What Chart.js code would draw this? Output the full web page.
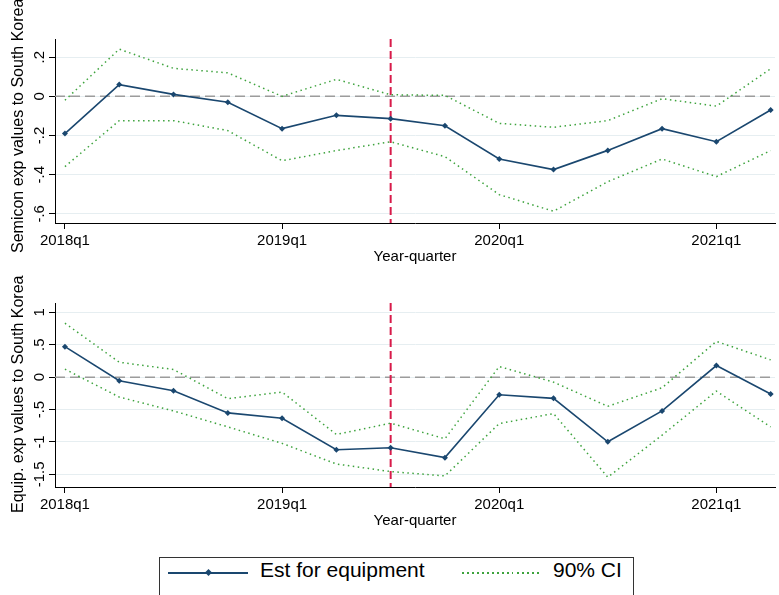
<!DOCTYPE html>
<html>
<head>
<meta charset="utf-8">
<script src="https://cdn.jsdelivr.net/npm/chart.js@4.4.0/dist/chart.umd.min.js"></script>
<style>
  body { margin: 0; background: #fff; width: 779px; height: 595px; overflow: hidden; position: relative;
         font-family: "Liberation Sans", Arial, sans-serif; }
  canvas.panel { position: absolute; left: 0; }
  #legend { position: absolute; left: 159px; top: 557px; width: 473px; height: 60px; border: 1px solid #333; }
  #legend > * { position: absolute; }
  .solid { left: 8px; top: 14px; width: 80px; height: 2px; background: #1a476f; }
  .mark { left: 46px; top: 12px; width: 5px; height: 5px; background: #1a476f; transform: rotate(45deg); }
  .dots { left: 302px; top: 14px; width: 78px; height: 1.5px;
          background: repeating-linear-gradient(to right, #3da33d 0 1.5px, transparent 1.5px 5px); }
  .lbl { top: 1px; font-size: 21px; line-height: 21px; color: #000; white-space: nowrap; }
</style>
</head>
<body>
<canvas id="semi" class="panel" width="779" height="264" style="top:0"></canvas>
<canvas id="equip" class="panel" width="779" height="264" style="top:264px"></canvas>
<div id="legend">
  <span class="solid"></span><span class="mark"></span>
  <span class="lbl" style="left:100px">Est for equipment</span>
  <span class="dots"></span>
  <span class="lbl" style="left:393px">90% CI</span>
</div>
<script>
const quarters = ['2018q1', '2018q2', '2018q3', '2018q4', '2019q1', '2019q2', '2019q3',
                  '2019q4', '2020q1', '2020q2', '2020q3', '2020q4', '2021q1', '2021q2'];
const xTickQuarters = ['2018q1', '2019q1', '2020q1', '2021q1'];
const eventQuarter = '2019q3';

// semiconductor export values
const semiEst = [-0.19, 0.06, 0.01, -0.03, -0.165, -0.097, -0.114, -0.15, -0.32, -0.374, -0.276, -0.165, -0.232, -0.07];
const semiHi  = [-0.02, 0.241, 0.143, 0.12, 0.0, 0.087, 0.008, 0.005, -0.138, -0.158, -0.124, -0.012, -0.05, 0.141];
const semiLo  = [-0.359, -0.124, -0.124, -0.175, -0.329, -0.277, -0.232, -0.308, -0.502, -0.587, -0.436, -0.32, -0.41, -0.277];
const semiTicks = [0.2, 0, -0.2, -0.4, -0.6];

// equipment export values
const equipEst = [0.47, -0.056, -0.21, -0.552, -0.634, -1.12, -1.089, -1.242, -0.271, -0.327, -0.997, -0.521, 0.179, -0.261];
const equipHi  = [0.833, 0.23, 0.118, -0.332, -0.23, -0.884, -0.71, -0.951, 0.164, -0.077, -0.45, -0.164, 0.552, 0.266];
const equipLo  = [0.123, -0.307, -0.521, -0.767, -1.022, -1.34, -1.457, -1.524, -0.716, -0.562, -1.544, -0.895, -0.215, -0.767];
const equipTicks = [1, 0.5, 0, -0.5, -1, -1.5];

const FONT = '"Liberation Sans", Arial, sans-serif';
const NAVY = '#1a476f';
const GREEN = '#3da33d';

// Stata-style numbers: .2, -.5, -1.5
const fmtTick = v => String(v).replace('0.', '.');

const toPoints = arr => arr.map((v, i) => ({ x: i, y: v }));

// zero reference line + vertical event line, under the data
const refLines = {
  id: 'refLines',
  beforeDatasetsDraw(chart) {
    const { ctx, chartArea: a, scales: { x, y } } = chart;
    ctx.save();
    ctx.lineWidth = 1.5;
    ctx.strokeStyle = '#9c9c9c';
    ctx.setLineDash([10, 5]);
    const y0 = y.getPixelForValue(0);
    ctx.beginPath(); ctx.moveTo(a.left, y0); ctx.lineTo(a.right, y0); ctx.stroke();
    ctx.lineWidth = 2;
    ctx.strokeStyle = '#d81b4a';
    ctx.setLineDash([8, 4]);
    const xe = x.getPixelForValue(quarters.indexOf(eventQuarter));
    ctx.beginPath(); ctx.moveTo(xe, a.top); ctx.lineTo(xe, a.bottom); ctx.stroke();
    ctx.restore();
  }
};

// rotated y tick labels and y title (title runs upward from titleBottom)
const stataY = {
  id: 'stataY',
  afterDraw(chart, args, opts) {
    const { ctx, scales: { y } } = chart;
    ctx.save();
    ctx.fillStyle = '#000';
    ctx.textAlign = 'center';
    ctx.textBaseline = 'alphabetic';
    ctx.font = '15px ' + FONT;
    y.ticks.forEach(t => {
      ctx.save();
      ctx.translate(43.5, y.getPixelForValue(t.value));
      ctx.rotate(-Math.PI / 2);
      ctx.fillText(fmtTick(t.value), 0, 0);
      ctx.restore();
    });
    ctx.font = '16px ' + FONT;
    ctx.textAlign = 'left';
    ctx.translate(23, opts.titleBottom);
    ctx.rotate(-Math.PI / 2);
    ctx.fillText(opts.title, 0, 0);
    ctx.restore();
  }
};

function makePanel(id, est, hi, lo, yTicks, yMin, yMax, yTitle, titleBottom) {
  const ci = {
    borderColor: GREEN, borderWidth: 1.5, borderDash: [1.5, 3.5],
    pointRadius: 0, tension: 0, order: 1
  };
  new Chart(document.getElementById(id), {
    type: 'line',
    data: {
      datasets: [
        { data: toPoints(est), borderColor: NAVY, backgroundColor: NAVY, borderWidth: 1.6,
          pointStyle: 'rectRot', pointRadius: 3, pointBorderWidth: 0, tension: 0, order: 0 },
        Object.assign({ data: toPoints(hi) }, ci),
        Object.assign({ data: toPoints(lo) }, ci)
      ]
    },
    options: {
      responsive: false,
      devicePixelRatio: 1,
      animation: false,
      events: [],
      layout: { padding: { top: 39, left: 0, right: 0, bottom: 0 } },
      plugins: {
        legend: { display: false },
        tooltip: { enabled: false },
        stataY: { title: yTitle, titleBottom: titleBottom }
      },
      scales: {
        x: {
          type: 'linear',
          min: -0.183,
          max: 13.08,
          afterBuildTicks: s => { s.ticks = xTickQuarters.map(q => ({ value: quarters.indexOf(q) })); },
          afterFit: s => { s.height = 41; },
          grid: { drawOnChartArea: false, drawTicks: true, tickLength: 6, tickColor: '#000' },
          border: { display: true, color: '#000', width: 1 },
          ticks: {
            color: '#000', padding: 3, maxRotation: 0,
            font: { family: FONT, size: 15 },
            callback: v => quarters[v]
          },
          title: {
            display: true, text: 'Year-quarter', color: '#000',
            font: { family: FONT, size: 15, lineHeight: 1 },
            padding: { top: 0, bottom: 0 }
          }
        },
        y: {
          min: yMin,
          max: yMax,
          afterBuildTicks: s => { s.ticks = yTicks.map(v => ({ value: v })); },
          afterFit: s => { s.width = 55; },
          grid: { color: '#e6eef1', lineWidth: 1, drawTicks: true, tickLength: 6, tickColor: '#000' },
          border: { display: true, color: '#000', width: 1 },
          ticks: { display: false }
        }
      }
    },
    plugins: [refLines, stataY]
  });
}

makePanel('semi', semiEst, semiHi, semiLo, semiTicks, -0.647, 0.293, 'Semicon exp values to South Korea', 253);
makePanel('equip', equipEst, equipHi, equipLo, equipTicks, -1.695, 1.144, 'Equip. exp values to South Korea', 249);
</script>
</body>
</html>
